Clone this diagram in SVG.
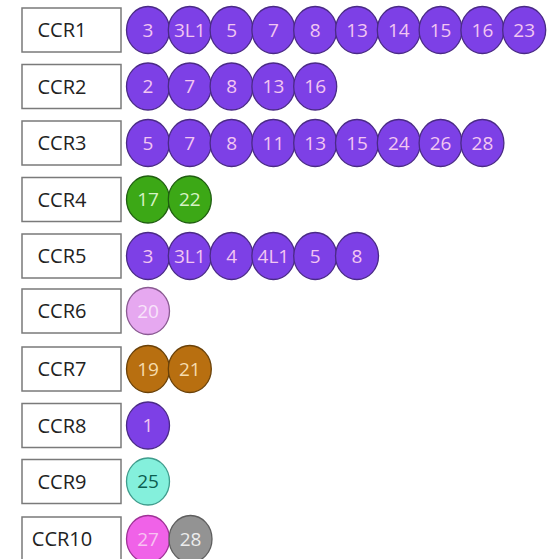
<svg xmlns="http://www.w3.org/2000/svg" width="549" height="559" viewBox="0 0 549 559">
<style>
.box{fill:#ffffff;stroke:#7a7a7a;stroke-width:1.5}
.lbl{font-family:"Open Sans","DejaVu Sans",sans-serif;font-size:20px;fill:#222222;text-anchor:middle}
.num{font-family:"Open Sans","DejaVu Sans",sans-serif;font-size:19px;text-anchor:middle}
.p{fill:#7d40e6;stroke:#4a2a86;stroke-width:1.3}
.pt{fill:#f2c6f2}
.g{fill:#3ca816;stroke:#1f5e10;stroke-width:1.3}
.gt{fill:#d6f2c4}
.v{fill:#e6a8f0;stroke:#8a5a92;stroke-width:1.3}
.vt{fill:#f8e4fa}
.b{fill:#b86f10;stroke:#6a4108;stroke-width:1.3}
.bt{fill:#f6dcae}
.a{fill:#84f0dc;stroke:#3e9c8c;stroke-width:1.3}
.at{fill:#0b5e50}
.m{fill:#f062e8;stroke:#9e3296;stroke-width:1.3}
.mt{fill:#f8c2f2}
.k{fill:#939393;stroke:#5e5e5e;stroke-width:1.3}
.kt{fill:#ececec}
</style>
<rect width="549" height="559" fill="#ffffff"/>
<g id="connectors"/>
<g id="CCR1">
<rect class="box" x="22" y="8" width="99" height="44"/><text class="lbl" x="62" y="37">CCR1</text>
<ellipse class="p" cx="148" cy="30" rx="21.5" ry="23.5"/><text class="num pt" x="148" y="36.8">3</text>
<ellipse class="p" cx="189.8" cy="30" rx="21.5" ry="23.5"/><text class="num pt" x="189.8" y="36.8">3L1</text>
<ellipse class="p" cx="231.6" cy="30" rx="21.5" ry="23.5"/><text class="num pt" x="231.6" y="36.8">5</text>
<ellipse class="p" cx="273.4" cy="30" rx="21.5" ry="23.5"/><text class="num pt" x="273.4" y="36.8">7</text>
<ellipse class="p" cx="315.2" cy="30" rx="21.5" ry="23.5"/><text class="num pt" x="315.2" y="36.8">8</text>
<ellipse class="p" cx="357" cy="30" rx="21.5" ry="23.5"/><text class="num pt" x="357" y="36.8">13</text>
<ellipse class="p" cx="398.8" cy="30" rx="21.5" ry="23.5"/><text class="num pt" x="398.8" y="36.8">14</text>
<ellipse class="p" cx="440.6" cy="30" rx="21.5" ry="23.5"/><text class="num pt" x="440.6" y="36.8">15</text>
<ellipse class="p" cx="482.4" cy="30" rx="21.5" ry="23.5"/><text class="num pt" x="482.4" y="36.8">16</text>
<ellipse class="p" cx="524.2" cy="30" rx="21.5" ry="23.5"/><text class="num pt" x="524.2" y="36.8">23</text>
</g>
<g id="CCR2">
<rect class="box" x="22" y="64.5" width="99" height="44"/><text class="lbl" x="62" y="93.5">CCR2</text>
<ellipse class="p" cx="148" cy="86.5" rx="21.5" ry="23.5"/><text class="num pt" x="148" y="93.3">2</text>
<ellipse class="p" cx="189.8" cy="86.5" rx="21.5" ry="23.5"/><text class="num pt" x="189.8" y="93.3">7</text>
<ellipse class="p" cx="231.6" cy="86.5" rx="21.5" ry="23.5"/><text class="num pt" x="231.6" y="93.3">8</text>
<ellipse class="p" cx="273.4" cy="86.5" rx="21.5" ry="23.5"/><text class="num pt" x="273.4" y="93.3">13</text>
<ellipse class="p" cx="315.2" cy="86.5" rx="21.5" ry="23.5"/><text class="num pt" x="315.2" y="93.3">16</text>
</g>
<g id="CCR3">
<rect class="box" x="22" y="121" width="99" height="44"/><text class="lbl" x="62" y="150">CCR3</text>
<ellipse class="p" cx="148" cy="143" rx="21.5" ry="23.5"/><text class="num pt" x="148" y="149.8">5</text>
<ellipse class="p" cx="189.8" cy="143" rx="21.5" ry="23.5"/><text class="num pt" x="189.8" y="149.8">7</text>
<ellipse class="p" cx="231.6" cy="143" rx="21.5" ry="23.5"/><text class="num pt" x="231.6" y="149.8">8</text>
<ellipse class="p" cx="273.4" cy="143" rx="21.5" ry="23.5"/><text class="num pt" x="273.4" y="149.8">11</text>
<ellipse class="p" cx="315.2" cy="143" rx="21.5" ry="23.5"/><text class="num pt" x="315.2" y="149.8">13</text>
<ellipse class="p" cx="357" cy="143" rx="21.5" ry="23.5"/><text class="num pt" x="357" y="149.8">15</text>
<ellipse class="p" cx="398.8" cy="143" rx="21.5" ry="23.5"/><text class="num pt" x="398.8" y="149.8">24</text>
<ellipse class="p" cx="440.6" cy="143" rx="21.5" ry="23.5"/><text class="num pt" x="440.6" y="149.8">26</text>
<ellipse class="p" cx="482.4" cy="143" rx="21.5" ry="23.5"/><text class="num pt" x="482.4" y="149.8">28</text>
</g>
<g id="CCR4">
<rect class="box" x="22" y="177.5" width="99" height="44"/><text class="lbl" x="62" y="206.5">CCR4</text>
<ellipse class="g" cx="148" cy="199.5" rx="21.5" ry="23.5"/><text class="num gt" x="148" y="206.3">17</text>
<ellipse class="g" cx="189.8" cy="199.5" rx="21.5" ry="23.5"/><text class="num gt" x="189.8" y="206.3">22</text>
</g>
<g id="CCR5">
<rect class="box" x="22" y="234" width="99" height="44"/><text class="lbl" x="62" y="263">CCR5</text>
<ellipse class="p" cx="148" cy="256" rx="21.5" ry="23.5"/><text class="num pt" x="148" y="262.8">3</text>
<ellipse class="p" cx="189.8" cy="256" rx="21.5" ry="23.5"/><text class="num pt" x="189.8" y="262.8">3L1</text>
<ellipse class="p" cx="231.6" cy="256" rx="21.5" ry="23.5"/><text class="num pt" x="231.6" y="262.8">4</text>
<ellipse class="p" cx="273.4" cy="256" rx="21.5" ry="23.5"/><text class="num pt" x="273.4" y="262.8">4L1</text>
<ellipse class="p" cx="315.2" cy="256" rx="21.5" ry="23.5"/><text class="num pt" x="315.2" y="262.8">5</text>
<ellipse class="p" cx="357" cy="256" rx="21.5" ry="23.5"/><text class="num pt" x="357" y="262.8">8</text>
</g>
<g id="CCR6">
<rect class="box" x="22" y="289" width="99" height="44"/><text class="lbl" x="62" y="318">CCR6</text>
<ellipse class="v" cx="148" cy="311" rx="21.5" ry="23.5"/><text class="num vt" x="148" y="317.8">20</text>
</g>
<g id="CCR7">
<rect class="box" x="22" y="347" width="99" height="44"/><text class="lbl" x="62" y="376">CCR7</text>
<ellipse class="b" cx="148" cy="369" rx="21.5" ry="23.5"/><text class="num bt" x="148" y="375.8">19</text>
<ellipse class="b" cx="189.8" cy="369" rx="21.5" ry="23.5"/><text class="num bt" x="189.8" y="375.8">21</text>
</g>
<g id="CCR8">
<rect class="box" x="22" y="403.5" width="99" height="44"/><text class="lbl" x="62" y="432.5">CCR8</text>
<ellipse class="p" cx="148" cy="425.5" rx="21.5" ry="23.5"/><text class="num pt" x="148" y="432.3">1</text>
</g>
<g id="CCR9">
<rect class="box" x="22" y="459.5" width="99" height="44"/><text class="lbl" x="62" y="488.5">CCR9</text>
<ellipse class="a" cx="148" cy="481.5" rx="21.5" ry="23.5"/><text class="num at" x="148" y="488.3">25</text>
</g>
<g id="CCR10">
<rect class="box" x="22" y="517" width="99" height="44"/><text class="lbl" x="62" y="546">CCR10</text>
<ellipse class="m" cx="148" cy="539" rx="21.5" ry="23.5"/><text class="num mt" x="148" y="545.8">27</text>
<ellipse class="k" cx="190.5" cy="539" rx="21.5" ry="23.5"/><text class="num kt" x="190.5" y="545.8">28</text>
</g>
</svg>
